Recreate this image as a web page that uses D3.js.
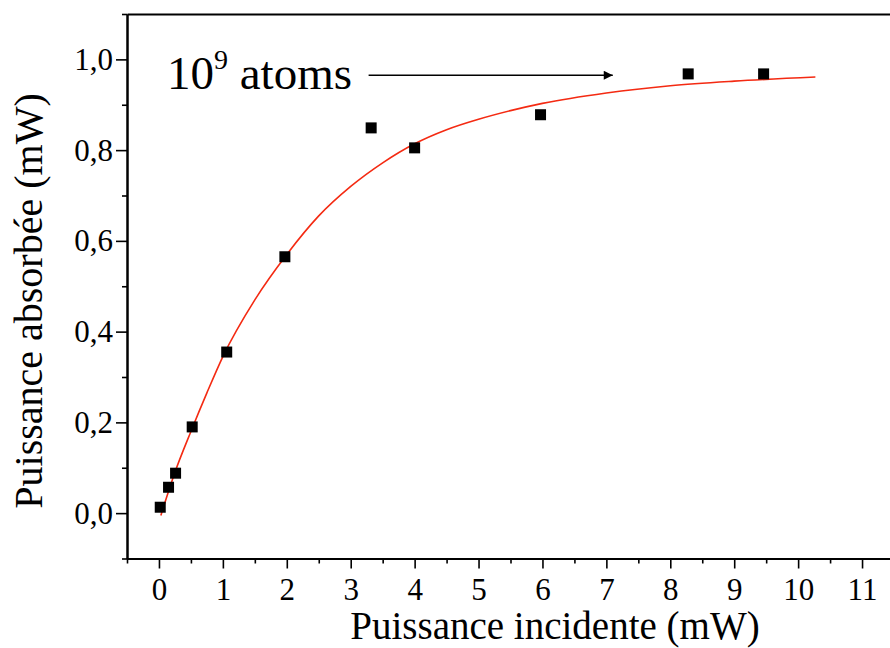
<!DOCTYPE html>
<html><head><meta charset="utf-8">
<script src="https://cdn.jsdelivr.net/npm/d3@7"></script>
<style>
html,body{margin:0;padding:0;background:#fff;}
svg text{font-family:"Liberation Serif","Times New Roman",serif;fill:#000;}
</style></head>
<body><svg id="chart" width="890" height="648"></svg>
<script>
// Measured points
const incident = [0.02, 0.15, 0.26, 0.52, 1.06, 1.97, 3.32, 4.00, 5.97, 8.28, 9.46];
const absorbed = [0.013, 0.057, 0.088, 0.190, 0.355, 0.565, 0.849, 0.805, 0.878, 0.968, 0.968];
// Fitted curve
const fitX = [0.03, 0.25, 0.5, 0.75, 1.0, 1.5, 2.0, 2.5, 3.0, 3.5, 4.0, 4.5, 5.0, 5.5, 6.0, 7.0, 8.0, 9.0, 10.27];
const fitY = [-0.005, 0.09, 0.18, 0.265, 0.345, 0.47, 0.57, 0.655, 0.72, 0.772, 0.814, 0.845, 0.868, 0.887, 0.903, 0.926, 0.942, 0.952, 0.961];
// Ticks
const xTicks = [0,1,2,3,4,5,6,7,8,9,10,11];
const xMinor = [-0.5,0.5,1.5,2.5,3.5,4.5,5.5,6.5,7.5,8.5,9.5,10.5,11.5];
const yTicks = [0.0,0.2,0.4,0.6,0.8,1.0];
const yMinor = [-0.1,0.1,0.3,0.5,0.7,0.9,1.1];
const xTitle = "Puissance incidente (mW)";
const yTitle = "Puissance absorbée (mW)";
const annotation = {base:"10", exp:"9", rest:" atoms", arrowFrom:3.28, arrowTo:7.1, y:0.965};

const svg = d3.select("#chart");
const x = d3.scaleLinear().domain([-0.5, 11.5]).range([127, 894]);
const y = d3.scaleLinear().domain([-0.1, 1.1]).range([558.5, 14]);
const fmt = d => d3.format(".1f")(d).replace(".", ",");

function styleAxis(g){
  g.selectAll("path.domain").attr("stroke","#000").attr("stroke-width",2);
  g.selectAll(".tick line").attr("stroke","#000").attr("stroke-width",1.6);
  g.selectAll(".tick text").style("font-size","31px").attr("fill","#000");
}
// left axis
const gl = svg.append("g").attr("transform",`translate(${x(-0.5)},0)`)
  .call(d3.axisLeft(y).tickValues(yMinor).tickSize(5).tickSizeOuter(0).tickFormat(""));
const glM = svg.append("g").attr("transform",`translate(${x(-0.5)},0)`)
  .call(d3.axisLeft(y).tickValues(yTicks).tickSize(11).tickSizeOuter(0).tickPadding(3).tickFormat(fmt));
styleAxis(gl); styleAxis(glM);
// bottom axis
const gb = svg.append("g").attr("transform",`translate(0,${y(-0.1)})`)
  .call(d3.axisBottom(x).tickValues(xMinor).tickSize(5).tickSizeOuter(0).tickFormat(""));
const gbM = svg.append("g").attr("transform",`translate(0,${y(-0.1)})`)
  .call(d3.axisBottom(x).tickValues(xTicks).tickSize(10).tickSizeOuter(0).tickPadding(9).tickFormat(d3.format("d")));
styleAxis(gb); styleAxis(gbM);
// top and right frame
const gt = svg.append("g").attr("transform",`translate(0,${y(1.1)})`)
  .call(d3.axisTop(x).tickValues([]).tickSizeOuter(0));
const gr = svg.append("g").attr("transform",`translate(${x(11.5)},0)`)
  .call(d3.axisRight(y).tickValues([]).tickSizeOuter(0));
styleAxis(gt); styleAxis(gr);

// fit curve
const fit = fitX.map((v,i)=>[v, fitY[i]]);
svg.append("path").datum(fit)
  .attr("fill","none").attr("stroke","#f42a12").attr("stroke-width",1.6)
  .attr("d", d3.line().x(d=>x(d[0])).y(d=>y(d[1])).curve(d3.curveMonotoneX));

// points
const pts = incident.map((v,i)=>[v, absorbed[i]]);
const s = 11;
svg.append("g").selectAll("rect").data(pts).join("rect")
  .attr("x", d=>x(d[0])-s/2).attr("y", d=>y(d[1])-s/2)
  .attr("width", s).attr("height", s).attr("fill","#000");

// titles
svg.append("text").attr("x", 555).attr("y", 639).attr("text-anchor","middle")
  .style("font-size","39px").text(xTitle);
svg.append("text").attr("transform","translate(42,301) rotate(-90)").attr("text-anchor","middle")
  .style("font-size","40px").text(yTitle);

// annotation
const ann = svg.append("text").attr("x", 167).attr("y", 89).style("font-size","47px");
ann.append("tspan").text(annotation.base);
ann.append("tspan").attr("dy",-20).style("font-size","28px").text(annotation.exp);
ann.append("tspan").attr("dy",20).text(annotation.rest);
svg.append("defs").append("marker").attr("id","ah").attr("viewBox","0 0 10 10")
  .attr("refX",10).attr("refY",5).attr("markerWidth",12).attr("markerHeight",9)
  .attr("markerUnits","userSpaceOnUse").attr("orient","auto")
  .append("path").attr("d","M0,0 L10,5 L0,10 Z").attr("fill","#000");
svg.append("line").attr("x1", x(annotation.arrowFrom)).attr("x2", x(annotation.arrowTo))
  .attr("y1", y(annotation.y)).attr("y2", y(annotation.y))
  .attr("stroke","#000").attr("stroke-width",1.6).attr("marker-end","url(#ah)");
</script></body></html>
